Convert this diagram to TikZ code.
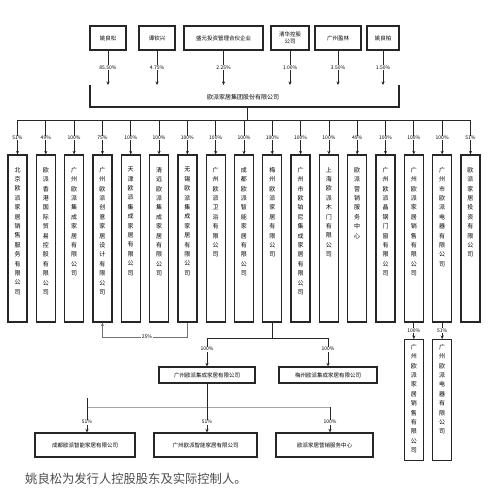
\documentclass[tikz,border=0pt]{standalone}
\usepackage{fontspec}
\setmainfont{Noto Sans CJK SC}
\XeTeXlinebreaklocale "zh"
\XeTeXlinebreakskip=0pt plus 1pt
\usetikzlibrary{arrows.meta,calc}
\begin{document}
\begin{tikzpicture}[x=1pt,y=-1pt,
  hbox/.style={draw=black!85, line width=1.3pt, minimum height=24pt, inner sep=1pt, font=\fontsize{5.5}{6.5}\selectfont, align=center},
  vbox/.style={draw=black!85, line width=1.3pt, minimum width=19pt, inner sep=0pt},
  vtext/.style={text width=6.3pt, align=center, font=\fontsize{6}{9.4}\selectfont, anchor=north, inner sep=0pt},
  pct/.style={font=\fontsize{5}{5}\selectfont, fill=white, inner sep=0.6pt},
  conn/.style={line width=0.7pt, draw=black!85},
  arr/.style={conn, -{Stealth[length=3.5pt,width=3.2pt]}},
  gconn/.style={line width=0.6pt, draw=black!35},
  garr/.style={gconn, -{Stealth[length=3.5pt,width=3.2pt]}, draw=black!55},
]
\useasboundingbox (0,0) rectangle (496,502);

% top shareholders
\node[hbox, minimum width=36pt] (b1) at (108,38) {姚良松};
\node[hbox, minimum width=36pt] (b2) at (157,38) {谭钦兴};
\node[hbox, minimum width=79pt] (b3) at (223.5,38) {盛元投资管理合伙企业};
\node[hbox, minimum width=38pt] (b4) at (290,38) {清华控股\\公司};
\node[hbox, minimum width=46pt] (b5) at (338,38) {广州盈林};
\node[hbox, minimum width=32pt] (b6) at (383,38) {姚良柏};
\coordinate (brtop) at (0,85);
\foreach \b/\p in {b1/85.50\%, b2/4.75\%, b3/2.25\%, b4/1.00\%, b5/3.50\%, b6/1.50\%}{
  \draw[arr] (\b.south) -- (\b.south |- brtop);
  \node[pct] (p\b) at ($(\b.south)!0.5!(\b.south |- brtop)$) {\p};
}
% bracket for issuer
\coordinate (brl) at (90,85);
\coordinate (brlb) at (90,107);
\coordinate (brrb) at (399,107);
\coordinate (brr) at (399,85);
\draw[conn, line width=1.1pt] (brl) -- (brlb) -- (brrb) -- (brr);
\node[font=\fontsize{6}{6}\selectfont] (co) at (243,97) {欧派家居集团股份有限公司};
\coordinate (cb) at (247,107);
\coordinate (busc) at (247,120);
\draw[conn] (cb) -- (busc);
\coordinate (busl) at (17.5,120);
\coordinate (busr) at (470.5,120);
\draw[conn] (busl) -- (busr);

% subsidiaries
\foreach \i/\p/\t in {
 0/51\%/北京欧派家居销售服务有限公司,
 1/49\%/欧派香港国际贸易控股有限公司,
 2/100\%/广州欧派集成家居有限公司,
 3/75\%/广州欧派创意家居设计有限公司,
 4/100\%/天津欧派集成家居有限公司,
 5/100\%/清远欧派集成家居有限公司,
 6/100\%/无锡欧派集成家居有限公司,
 7/100\%/广州欧派卫浴有限公司,
 8/100\%/成都欧派智能家居有限公司,
 9/100\%/梅州欧派家居有限公司,
 10/100\%/广州市欧铂尼集成家居有限公司,
 11/100\%/上海欧派木门有限公司,
 12/49\%/欧派营销服务中心,
 13/100\%/广州欧派晶钢门窗有限公司,
 14/100\%/广州欧派家居销售有限公司,
 15/100\%/广州市欧派电器有限公司,
 16/51\%/欧派家居投资有限公司}{
  \pgfmathsetmacro\cx{17.5+28.31*\i}
  \node[vbox, minimum height=167pt] (s\i) at (\cx,238.5) {};
  \node[vtext] (t\i) at (\cx,167) {\t};
  \coordinate (k\i) at (\cx,120);
  \draw[arr] (k\i) -- (s\i.north);
  \node[pct] (q\i) at (\cx,138) {\p};
}

% 25% link from s6 to s3
\coordinate (g1) at (s6.south |- 0,337);
\coordinate (g2) at (s3.south |- 0,337);
\draw[garr] (s6.south) -- (g1) -- (g2) -- (s3.south);
\node[pct] (q25) at (147,337) {25\%};

% second level under s9
\node[hbox, minimum width=96pt, minimum height=16pt] (m1) at (207,375) {广州欧派集成家居有限公司};
\node[hbox, minimum width=98pt, minimum height=16pt] (m2) at (328,375) {梅州欧派集成家居有限公司};
\coordinate (h0) at (s9.south |- 0,338);
\coordinate (h1) at (m1.north |- 0,338);
\coordinate (h2) at (m2.north |- 0,338);
\draw[conn] (s9.south) -- (h0);
\draw[conn] (h1) -- (h2);
\draw[arr] (h1) -- (m1.north);
\draw[arr] (h2) -- (m2.north);
\node[pct] (qm1) at (207,349) {100\%};
\node[pct] (qm2) at (328,349) {100\%};

% third level under m1
\node[hbox, minimum width=100pt] (n1) at (85,445) {成都欧派智能家居有限公司};
\node[hbox, minimum width=103pt] (n2) at (205.5,445) {广州欧派智能家居有限公司};
\node[hbox, minimum width=97pt] (n3) at (324.5,445) {欧派家居营销服务中心};
\coordinate (j0) at (m1.south |- 0,407);
\coordinate (jl) at (87,407);
\coordinate (jr) at (330,407);
\coordinate (jt) at (87,398);
\draw[conn] (m1.south) -- (j0);
\draw[gconn] (jl) -- (jr);
\draw[conn] (jt) -- (jl);
\draw[arr] (jl) -- (jl |- n1.north);
\draw[arr] (j0) -- (j0 |- n2.north);
\draw[arr] (jr) -- (jr |- n3.north);
\node[pct] (qn1) at (87,422) {51\%};
\node[pct] (qn2) at (207,422) {51\%};
\node[pct] (qn3) at (330,422) {100\%};

% lower right vertical boxes
\foreach \i/\j/\p/\t in {14/a/100\%/广州欧派家居销售有限公司, 15/b/51\%/广州欧派电器有限公司}{
  \node[vbox, minimum height=121pt, anchor=north] (r\j) at (s\i.south |- 0,339) {};
  \node[vtext] (u\j) at ($(r\j.north)+(0,5)$) {\t};
  \draw[arr] (s\i.south) -- (r\j.north);
  \node[pct] (qr\j) at ($(s\i.south)!0.5!(r\j.north)$) {\p};
}

% caption
\node[anchor=west, font=\fontsize{12.3}{13}\selectfont, text=black!70, inner sep=0pt] (cap) at (25,479) {姚良松为发行人控股股东及实际控制人。};
\end{tikzpicture}
\end{document}
